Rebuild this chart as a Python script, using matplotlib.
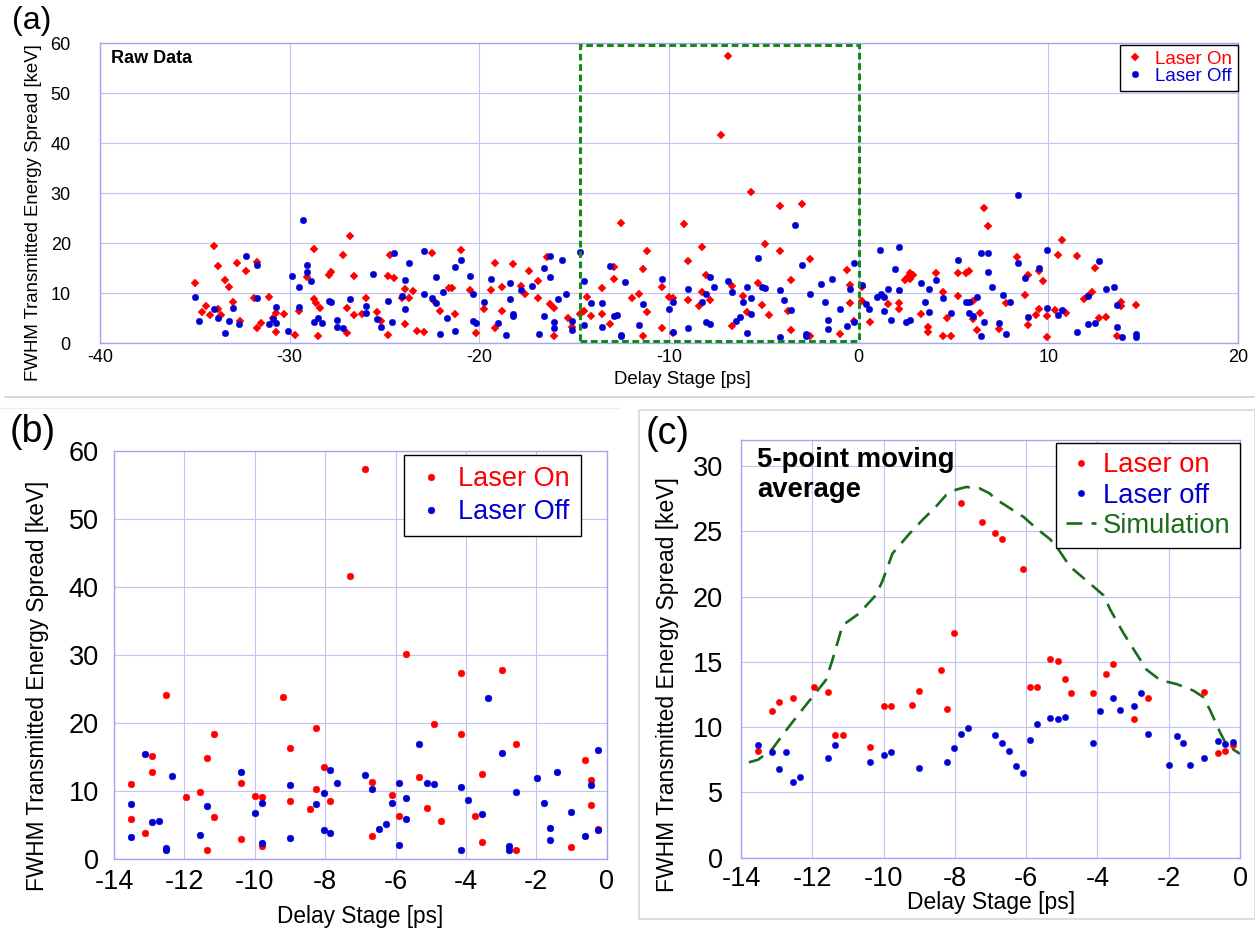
import numpy as np
import matplotlib
matplotlib.use("Agg")
import matplotlib.pyplot as plt
from matplotlib.patches import Rectangle
from matplotlib.lines import Line2D

plt.rcParams['font.family'] = ['Liberation Sans', 'DejaVu Sans']
plt.rcParams['axes.unicode_minus'] = False

# panel (a): raw points outside the -14..0 ps window  (delay [ps], FWHM [keV])
laser_on_raw = [
    (-35.0, 12.1), (-34.6, 6.2), (-34.4, 7.5), (-34.2, 5.6), (-34.0, 19.5), (-33.8, 15.5), (-33.8, 6.9),
    (-33.6, 5.6), (-33.4, 12.7), (-33.2, 11.2), (-33.0, 8.3), (-32.8, 16.1), (-32.6, 4.5), (-32.3, 14.5),
    (-31.9, 9.1), (-31.7, 16.3), (-31.7, 3.1), (-31.5, 4.1), (-31.1, 9.3), (-30.9, 5.1), (-30.7, 6.1),
    (-30.7, 2.3), (-30.3, 5.9), (-29.7, 1.6), (-29.5, 6.4), (-29.1, 13.3), (-28.7, 18.9), (-28.7, 8.9),
    (-28.6, 8.0), (-28.4, 7.1), (-28.5, 1.5), (-27.9, 13.6), (-27.8, 14.3), (-27.2, 17.6), (-27.0, 7.1),
    (-27.0, 2.1), (-26.8, 21.5), (-26.6, 13.4), (-26.6, 5.6), (-26.2, 5.9), (-26.0, 9.1), (-25.4, 6.3),
    (-25.2, 4.5), (-24.8, 13.4), (-24.8, 1.7), (-24.7, 17.7), (-24.5, 13.1),
    (-24.1, 9.0), (-23.9, 10.9), (-23.7, 9.1), (-23.5, 10.4), (-23.9, 3.9), (-23.3, 2.5), (-22.9, 2.3),
    (-22.5, 18.1), (-22.4, 8.5), (-22.1, 6.5), (-21.6, 11.0), (-21.45, 11.1), (-21.3, 5.9), (-20.95, 18.7),
    (-20.5, 10.7), (-20.2, 2.0), (-19.75, 6.9), (-19.4, 10.7), (-19.2, 16.0), (-19.2, 3.1), (-18.8, 11.2),
    (-18.8, 6.4), (-18.2, 15.9), (-17.8, 11.5), (-17.6, 9.8), (-17.4, 14.4), (-16.9, 12.5), (-16.9, 9.1),
    (-16.45, 17.2), (-16.25, 7.8), (-16.05, 7.0), (-16.05, 1.5), (-15.3, 5.1), (-15.1, 3.2), (-14.7, 5.8),
    (-14.5, 6.4), (-14.3, 9.2), (-14.1, 5.5),
    (0.18, 11.3), (0.18, 8.4), (0.58, 4.3), (1.53, 7.8), (2.13, 8.0), (2.13, 6.8), (2.46, 12.6),
    (2.62, 13.3), (2.71, 14.1), (2.86, 13.7), (2.71, 12.9), (3.28, 5.8), (3.68, 3.2), (3.68, 2.3),
    (4.08, 14.0), (4.47, 10.3), (4.47, 1.4), (4.66, 5.0), (4.87, 1.4), (5.24, 14.1), (5.24, 9.5),
    (5.65, 14.0), (5.84, 14.4), (6.05, 8.5), (6.05, 4.9), (6.23, 2.6), (6.42, 6.0), (6.63, 27.1),
    (6.81, 23.5), (7.41, 2.8), (7.76, 8.0), (8.37, 17.3), (8.75, 9.7), (8.94, 13.6), (8.94, 3.7),
    (9.35, 5.6), (9.52, 6.9), (9.52, 14.5), (9.73, 12.5), (9.95, 5.5), (9.95, 1.3), (10.34, 6.7),
    (10.52, 17.7), (10.7, 20.6), (10.92, 6.1), (11.5, 17.5), (11.89, 8.9), (12.1, 9.5), (12.29, 10.2),
    (12.47, 15.1), (12.67, 5.1), (13.05, 5.3), (13.62, 1.5), (13.85, 8.3), (13.85, 7.4), (14.61, 7.7),
]
laser_off_raw = [
    (-35.0, 9.3), (-34.8, 4.4), (-34.0, 6.9), (-33.8, 5.0), (-33.4, 2.0), (-33.2, 4.5), (-33.0, 7.0),
    (-32.65, 3.9), (-32.3, 17.4), (-31.7, 15.7), (-31.7, 9.1), (-31.1, 3.9), (-30.9, 4.8), (-30.7, 7.3),
    (-30.7, 4.1), (-30.1, 2.4), (-29.9, 13.5), (-29.5, 11.3), (-29.5, 7.2), (-29.3, 24.7), (-29.1, 15.6),
    (-29.1, 14.3), (-28.9, 12.5), (-28.7, 4.3), (-28.5, 5.1), (-28.3, 4.1), (-27.9, 8.4), (-27.8, 8.3),
    (-27.5, 4.7), (-27.5, 3.3), (-27.2, 3.1), (-26.8, 8.9), (-26.0, 7.5), (-26.0, 6.1), (-25.6, 13.9),
    (-25.4, 4.8), (-25.2, 3.3), (-24.8, 8.5), (-24.6, 4.3), (-24.5, 18.0),
    (-24.1, 9.5), (-23.9, 12.7), (-23.9, 6.9), (-23.7, 16.1), (-22.9, 18.5), (-22.9, 9.9), (-22.5, 9.1),
    (-22.3, 8.1), (-22.3, 13.2), (-22.1, 1.8), (-21.9, 10.3), (-21.7, 5.1), (-21.3, 2.4), (-21.3, 15.3),
    (-20.95, 16.7), (-20.5, 13.5), (-20.35, 9.9), (-20.35, 4.5), (-20.15, 4.1), (-19.75, 8.3), (-19.4, 12.8),
    (-19.0, 4.0), (-18.6, 1.6), (-18.4, 12.0), (-18.4, 8.9), (-18.2, 5.9), (-18.2, 5.4), (-17.8, 10.7),
    (-17.2, 11.5), (-16.85, 1.8), (-16.6, 15.0), (-16.6, 5.4), (-16.25, 17.4), (-16.25, 13.2), (-16.05, 4.2),
    (-16.05, 3.0), (-15.85, 8.9), (-15.65, 16.7), (-15.45, 9.9), (-15.1, 4.5), (-15.1, 2.7), (-14.7, 18.3),
    (-14.5, 12.5), (-14.5, 3.7), (-14.1, 8.1),
    (0.2, 11.7), (0.38, 7.9), (0.57, 6.8), (0.95, 9.2), (1.15, 18.6), (1.16, 9.8), (1.36, 9.3),
    (1.36, 6.5), (1.55, 10.8), (1.73, 4.7), (1.94, 14.8), (2.13, 19.3), (2.13, 10.7), (2.52, 4.3),
    (2.72, 4.7), (3.3, 12.0), (3.5, 8.3), (3.7, 10.9), (3.7, 6.3), (4.08, 12.7), (4.47, 9.1),
    (4.87, 6.0), (5.26, 16.6), (5.65, 8.3), (5.84, 8.3), (5.84, 6.1), (6.05, 5.5), (6.23, 9.3),
    (6.44, 1.4), (6.44, 18.0), (6.63, 4.3), (6.81, 18.0), (6.81, 14.2), (7.02, 11.2), (7.41, 4.1),
    (7.59, 9.7), (7.79, 1.8), (7.97, 8.2), (8.38, 29.6), (8.38, 16.0), (8.76, 13.0), (8.95, 5.3),
    (9.52, 15.1), (9.94, 18.6), (9.94, 7.0), (10.53, 5.6), (10.7, 6.6), (11.5, 2.2), (12.09, 9.5),
    (12.08, 3.9), (12.47, 4.1), (12.66, 16.5), (13.05, 10.9), (13.46, 11.3), (13.63, 7.7), (13.63, 3.2),
    (13.86, 1.3), (14.61, 1.8), (14.61, 1.3),
]

# points inside the -14..0 ps window (panel b, also part of panel a)
laser_on_window = [
    (-13.51, 11.1), (-13.51, 5.9), (-13.12, 3.8), (-12.92, 15.2), (-12.92, 12.9), (-12.53, 24.1),
    (-11.95, 9.1), (-11.56, 9.9), (-11.36, 14.9), (-11.17, 18.5), (-11.17, 6.2), (-11.36, 1.4),
    (-10.39, 11.2), (-10.39, 3.0), (-10.0, 9.3), (-9.8, 9.1), (-9.8, 2.0), (-9.2, 23.8), (-9.01, 16.4),
    (-9.01, 8.6), (-8.43, 7.4), (-8.25, 19.3), (-8.25, 10.3), (-8.04, 13.6), (-7.85, 8.6), (-7.28, 41.7),
    (-6.88, 57.4), (-6.68, 11.4), (-6.68, 3.4), (-6.09, 9.5), (-5.9, 6.3), (-5.7, 30.2), (-5.32, 12.1),
    (-5.12, 7.6), (-4.92, 19.9), (-4.72, 5.7), (-4.13, 27.4), (-4.13, 18.4), (-3.75, 6.4), (-3.55, 12.6),
    (-3.55, 2.6), (-2.98, 27.8), (-2.58, 16.9), (-2.58, 1.4), (-1.01, 1.8), (-0.63, 14.6), (-0.44, 11.7),
    (-0.44, 8.0), (-0.25, 4.5),
]
laser_off_window = [
    (-13.51, 8.1), (-13.51, 3.3), (-13.12, 15.5), (-12.92, 5.5), (-12.73, 5.7), (-12.53, 1.7), (-12.53, 1.4),
    (-12.34, 12.3), (-11.56, 3.6), (-11.36, 7.8), (-10.39, 12.8), (-10.0, 6.8), (-9.8, 8.3), (-9.8, 2.35),
    (-9.01, 10.9), (-9.01, 3.1), (-8.25, 8.2), (-8.04, 9.8), (-8.04, 4.3), (-7.85, 13.2), (-7.85, 3.8),
    (-7.65, 11.2), (-6.87, 12.4), (-6.68, 10.3), (-6.48, 4.4), (-6.28, 5.2), (-6.09, 8.3), (-5.9, 11.2),
    (-5.9, 2.1), (-5.7, 9.0), (-5.7, 5.9), (-5.32, 17.0), (-5.12, 11.2), (-4.92, 11.1), (-4.13, 10.6),
    (-4.13, 1.3), (-3.94, 8.7), (-3.55, 6.7), (-3.36, 23.7), (-2.98, 15.7), (-2.78, 1.9), (-2.78, 1.4),
    (-2.58, 9.9), (-1.99, 11.9), (-1.79, 8.3), (-1.6, 4.6), (-1.6, 2.9), (-1.4, 12.8), (-1.01, 6.9),
    (-0.63, 3.5), (-0.44, 10.9), (-0.25, 16.1), (-0.25, 4.3),
]

# panel (c): 5-point moving average and simulation
avg_on = [
    (-13.52, 8.2), (-13.13, 11.2), (-12.94, 11.9), (-12.54, 12.2), (-11.95, 13.1), (-11.56, 12.7),
    (-11.36, 9.4), (-11.15, 9.4), (-10.38, 8.5), (-9.99, 11.6), (-9.79, 11.6), (-9.19, 11.7), (-9.0, 12.8),
    (-8.40, 14.4), (-8.23, 11.4), (-8.02, 17.2), (-7.82, 27.2), (-7.24, 25.7), (-6.88, 24.9), (-6.68, 24.4),
    (-6.09, 22.1), (-5.90, 13.1), (-5.70, 13.1), (-5.32, 15.2), (-5.11, 15.1), (-4.92, 13.7), (-4.73, 12.6),
    (-4.12, 12.6), (-3.75, 14.1), (-3.55, 14.8), (-2.96, 10.6), (-2.57, 12.2), (-1.0, 12.7), (-0.61, 8.0),
    (-0.41, 8.2), (-0.21, 8.6),
]
avg_off = [
    (-13.52, 8.6), (-13.13, 8.1), (-12.94, 6.8), (-12.74, 8.1), (-12.54, 5.8), (-12.35, 6.2), (-11.56, 7.6),
    (-11.36, 8.6), (-10.38, 7.3), (-9.99, 7.9), (-9.79, 8.1), (-9.0, 6.9), (-8.23, 7.3), (-8.02, 8.4),
    (-7.82, 9.5), (-7.62, 9.95), (-6.88, 9.4), (-6.68, 8.75), (-6.48, 8.2), (-6.29, 7.0), (-6.09, 6.45),
    (-5.90, 9.0), (-5.70, 10.2), (-5.32, 10.7), (-5.11, 10.6), (-4.92, 10.8), (-4.12, 8.8), (-3.93, 11.25),
    (-3.55, 12.2), (-3.36, 11.3), (-2.96, 11.6), (-2.77, 12.6), (-2.57, 9.5), (-1.98, 7.1), (-1.78, 9.3),
    (-1.59, 8.8), (-1.39, 7.1), (-1.0, 7.6), (-0.61, 8.9), (-0.41, 8.7), (-0.21, 8.85),
]
simulation = [
    (-13.78, 7.3), (-13.52, 7.5), (-13.13, 8.3), (-12.75, 9.7), (-12.38, 11.0), (-12.0, 12.3), (-11.62, 13.6),
    (-11.44, 15.1), (-11.15, 17.8), (-10.69, 18.7), (-10.22, 20.1), (-10.03, 21.2), (-9.75, 23.3),
    (-9.28, 24.8), (-8.9, 25.9), (-8.53, 26.9), (-8.24, 27.8), (-7.96, 28.2), (-7.68, 28.4), (-7.31, 28.3),
    (-7.02, 27.9), (-6.87, 27.5), (-6.07, 26.1), (-5.7, 25.2), (-5.33, 24.4), (-5.14, 23.8), (-4.77, 22.3),
    (-4.21, 21.0), (-3.83, 20.1), (-3.64, 19.0), (-3.27, 17.2), (-2.9, 15.6), (-2.62, 14.4), (-2.24, 13.6),
    (-1.78, 13.3), (-1.31, 12.8), (-1.03, 12.3), (-0.84, 11.3), (-0.56, 9.6), (-0.37, 8.6), (0.0, 7.95),
]

RED = '#ff0000'
BLUE = '#0000d2'
GREEN = '#1a6b1a'
GRID = '#c2c2f4'
SPINE = '#a4a4f4'
YLABEL = 'FWHM Transmitted Energy Spread [keV]'


def xy(pairs):
    a = np.array(pairs, dtype=float)
    return a[:, 0], a[:, 1]


def style_axes(ax, tick_size, ypad, xpad):
    for s in ax.spines.values():
        s.set_color(SPINE)
        s.set_linewidth(1.0)
    ax.grid(True, color=GRID, lw=0.8)
    ax.set_axisbelow(True)
    ax.tick_params(length=0, labelsize=tick_size)
    ax.tick_params(axis='y', pad=ypad)
    ax.tick_params(axis='x', pad=xpad)


fig = plt.figure(figsize=(12.55, 9.31), dpi=100)

# separators between panels
fig.add_artist(Line2D([0.004, 0.999], [1 - 397 / 931, 1 - 397 / 931], color='#cfcfcf', lw=1.2))
fig.add_artist(Line2D([0.0, 620 / 1255], [1 - 408 / 931, 1 - 408 / 931], color='#eeeeee', lw=1))
fig.add_artist(Rectangle((639 / 1255, 1 - 919 / 931), 616 / 1255, 509 / 931, fill=False,
                         edgecolor='#d8d8d8', lw=1.2, transform=fig.transFigure))

# ---------------- (a) raw data ----------------
ax = fig.add_axes([100 / 1255, 1 - 343.3 / 931, 1138 / 1255, 300 / 931])
on_x, on_y = xy(laser_on_raw + laser_on_window)
off_x, off_y = xy(laser_off_raw + laser_off_window)
ax.plot(on_x, on_y, ls='none', marker='D', ms=3.8, mfc=RED, mec=RED, mew=0.3, label='Laser On')
ax.plot(off_x, off_y, ls='none', marker='o', ms=4.7, mfc=BLUE, mec=BLUE, mew=0.3, label='Laser Off')
ax.add_patch(Rectangle((-14.7, 0.45), 14.7, 59.25, fill=False, edgecolor='#168a16',
                       lw=2.2, ls=(0, (2.2, 1.2)), zorder=3))
ax.set_xlim(-40, 20)
ax.set_ylim(0, 60)
ax.set_xticks(np.arange(-40, 21, 10))
ax.set_yticks(np.arange(0, 61, 10))
style_axes(ax, 13, 21, 4)
ax.set_xlabel('Delay Stage [ps]', fontsize=13.4)
ax.xaxis.set_label_coords(0.512, -0.094)
ax.set_ylabel(YLABEL, fontsize=13.4)
ax.yaxis.set_label_coords(-0.051, 0.437)
ax.text(0.0097, 0.978, 'Raw Data', transform=ax.transAxes, fontsize=13, fontweight='bold', va='top')
leg = ax.legend(loc='upper right', bbox_to_anchor=(1.0, 0.994), borderaxespad=0, fontsize=13.5,
                frameon=True, fancybox=False, framealpha=1, edgecolor='black', handlelength=1.0,
                handletextpad=0.6, labelspacing=0.0, borderpad=0.3)
leg.get_frame().set_linewidth(1.0)
for t, c in zip(leg.get_texts(), [RED, BLUE]):
    t.set_color(c)

# ---------------- (b) window zoom ----------------
ax = fig.add_axes([114 / 1255, 1 - 859.3 / 931, 492.7 / 1255, 408 / 931])
wx, wy = xy(laser_on_window)
ax.plot(wx, wy, ls='none', marker='o', ms=4.9, mfc=RED, mec=RED, mew=0.3, label='Laser On')
wx, wy = xy(laser_off_window)
ax.plot(wx, wy, ls='none', marker='o', ms=4.9, mfc=BLUE, mec=BLUE, mew=0.3, label='Laser Off')
ax.set_xlim(-14, 0)
ax.set_ylim(0, 60)
ax.set_xticks(np.arange(-14, 1, 2))
ax.set_yticks(np.arange(0, 61, 10))
style_axes(ax, 19.5, 11, 7)
ax.set_xlabel('Delay Stage [ps]', fontsize=16.3)
ax.xaxis.set_label_coords(0.5, -0.112)
ax.set_ylabel(YLABEL, fontsize=16.3)
ax.yaxis.set_label_coords(-0.132, 0.424)
leg = ax.legend(loc='upper right', bbox_to_anchor=(0.947, 0.99), borderaxespad=0, fontsize=19.5,
                frameon=True, fancybox=False, framealpha=1, edgecolor='black', handlelength=1.2,
                handletextpad=0.4, labelspacing=0.25, borderpad=0.4)
leg.get_frame().set_linewidth(1.0)
for t, c in zip(leg.get_texts(), [RED, BLUE]):
    t.set_color(c)

# ---------------- (c) moving average ----------------
ax = fig.add_axes([741 / 1255, 1 - 857.6 / 931, 499 / 1255, 417.6 / 931])
sx, sy = xy(simulation)
ax.plot(sx, sy, color=GREEN, lw=1.9, ls=(0, (6, 3.5)), label='Simulation', zorder=2)
ax_x, ax_y = xy(avg_on)
ax.plot(ax_x, ax_y, ls='none', marker='o', ms=4.6, mfc=RED, mec=RED, mew=0.3, label='Laser on', zorder=3)
ax_x, ax_y = xy(avg_off)
ax.plot(ax_x, ax_y, ls='none', marker='o', ms=4.6, mfc=BLUE, mec=BLUE, mew=0.3, label='Laser off', zorder=3)
ax.set_xlim(-14, 0)
ax.set_ylim(0, 32)
ax.set_xticks(np.arange(-14, 1, 2))
ax.set_yticks(np.arange(0, 31, 5))
style_axes(ax, 19.5, 13, 6)
ax.set_xlabel('Delay Stage [ps]', fontsize=16.5)
ax.xaxis.set_label_coords(0.502, -0.08)
ax.set_ylabel(YLABEL, fontsize=16.5)
ax.yaxis.set_label_coords(-0.124, 0.415)
ax.text(0.032, 0.983, '5-point moving\naverage', transform=ax.transAxes, fontsize=19.8,
        fontweight='bold', va='top', linespacing=1.2)
h, l = ax.get_legend_handles_labels()
leg = ax.legend([h[1], h[2], h[0]], [l[1], l[2], l[0]], loc='upper right', bbox_to_anchor=(1.0, 0.993),
                borderaxespad=0, fontsize=19.7, frameon=True, fancybox=False, framealpha=1,
                edgecolor='black', handlelength=1.1, handletextpad=0.25, labelspacing=0.15, borderpad=0.35)
leg.get_frame().set_linewidth(1.0)
for t, c in zip(leg.get_texts(), [RED, BLUE, GREEN]):
    t.set_color(c)

# panel letters
fig.text(12 / 1255, 1 - 6 / 931, '(a)', fontsize=23, va='top')
fig.text(10 / 1255, 1 - 414 / 931, '(b)', fontsize=27, va='top')
fig.text(646 / 1255, 1 - 416 / 931, '(c)', fontsize=27, va='top')

fig.savefig('out.png', dpi=100)
